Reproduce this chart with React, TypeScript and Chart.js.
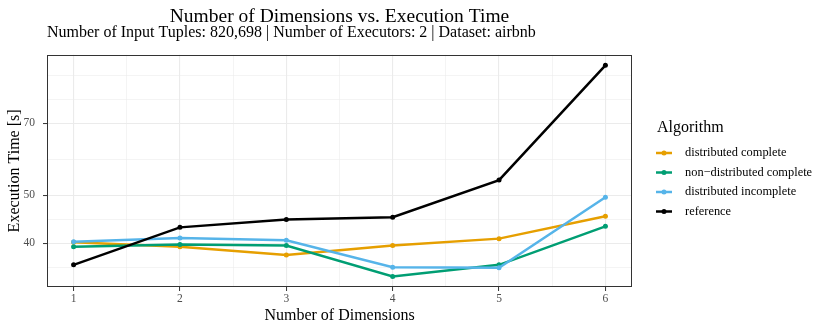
import React, { useEffect, useRef } from "react";
import { Chart, registerables } from "chart.js";

Chart.register(...registerables);

const dims = [1, 2, 3, 4, 5, 6];
const distributedComplete = [40.2, 39.4, 37.9, 39.6, 40.9, 45.4];
const nonDistributedComplete = [39.4, 39.8, 39.6, 34.3, 36.2, 43.3];
const distributedIncomplete = [40.3, 41.0, 40.6, 35.8, 35.7, 49.6];
const reference = [36.2, 43.1, 44.7, 45.2, 53.7, 91.6];

const seriesLabels = [
  "distributed complete",
  "non\u2212distributed complete",
  "distributed incomplete",
  "reference",
];
const seriesColors = ["#E69F00", "#009E73", "#56B4E9", "#000000"];
const seriesValues = [distributedComplete, nonDistributedComplete, distributedIncomplete, reference];

const xTicks = [1, 2, 3, 4, 5, 6];
const yTicks = [40, 50, 70];

const TITLE = "Number of Dimensions vs. Execution Time";
const SUBTITLE = "Number of Input Tuples: 820,698 | Number of Executors: 2 | Dataset: airbnb";
const X_TITLE = "Number of Dimensions";
const Y_TITLE = "Execution Time [s]";
const LEGEND_TITLE = "Algorithm";

const FONT = '"Liberation Serif", "Times New Roman", serif';

// ggplot-like expansions
const xMin = Math.min(...dims) - 0.05 * (Math.max(...dims) - Math.min(...dims));
const xMax = Math.max(...dims) + 0.05 * (Math.max(...dims) - Math.min(...dims));
const allY = seriesValues.flat();
const lLo = Math.log10(Math.min(...allY));
const lHi = Math.log10(Math.max(...allY));
const yMin = Math.pow(10, lLo - 0.05 * (lHi - lLo));
const yMax = Math.pow(10, lHi + 0.05 * (lHi - lLo));

// minor breaks (midpoints, in transformed space)
function minorX(): number[] {
  const out: number[] = [];
  for (let i = 0; i < xTicks.length - 1; i++) out.push((xTicks[i] + xTicks[i + 1]) / 2);
  return out;
}
function minorY(): number[] {
  const l = yTicks.map((v) => Math.log10(v));
  const bd = l[1] - l[0];
  const b = [...l];
  if (Math.log10(yMin) < b[0]) b.unshift(b[0] - bd);
  if (Math.log10(yMax) > b[b.length - 1]) b.push(b[b.length - 1] + bd);
  const out: number[] = [];
  for (let i = 0; i < b.length - 1; i++) {
    out.push(b[i], (b[i] + b[i + 1]) / 2);
  }
  out.push(b[b.length - 1]);
  return out
    .map((v) => Math.pow(10, v))
    .filter((v) => v > yMin && v < yMax && !yTicks.some((t) => Math.abs(t - v) < 1e-6));
}

const borderPlugin = {
  id: "panelBorder",
  afterDatasetsDraw(chart: any) {
    const { ctx, chartArea } = chart;
    ctx.save();
    ctx.strokeStyle = "#333333";
    ctx.lineWidth = 1;
    ctx.strokeRect(
      Math.round(chartArea.left) + 0.5,
      Math.round(chartArea.top) + 0.5,
      Math.round(chartArea.right - chartArea.left) - 1,
      Math.round(chartArea.bottom - chartArea.top) - 1
    );
    ctx.restore();
  },
};

const legendPlugin = {
  id: "ggLegend",
  afterDraw(chart: any) {
    const { ctx } = chart;
    const x0 = 657;
    ctx.save();
    ctx.fillStyle = "#000";
    ctx.textBaseline = "middle";
    ctx.textAlign = "left";
    ctx.font = `16px ${FONT}`;
    ctx.fillText(LEGEND_TITLE, x0, 128);
    chart.data.datasets.forEach((ds: any, i: number) => {
      const y = 153 + i * 19.5;
      ctx.strokeStyle = ds.borderColor;
      ctx.lineWidth = 2.5;
      ctx.beginPath();
      ctx.moveTo(x0 - 1, y);
      ctx.lineTo(x0 + 15, y);
      ctx.stroke();
      ctx.fillStyle = ds.borderColor;
      ctx.beginPath();
      ctx.arc(x0 + 7, y, 2.5, 0, Math.PI * 2);
      ctx.fill();
      ctx.fillStyle = "#000";
      ctx.font = `12.4px ${FONT}`;
      ctx.fillText(ds.label, 685, y);
    });
    ctx.restore();
  },
};

export default function App() {
  const ref = useRef<HTMLCanvasElement | null>(null);
  useEffect(() => {
    if (!ref.current) return;
    const xMinor = minorX();
    const yMinor = minorY();
    const datasets = seriesLabels.map((label, i) => ({
      label,
      data: dims.map((d, j) => ({ x: d, y: seriesValues[i][j] })),
      borderColor: seriesColors[i],
      backgroundColor: seriesColors[i],
      borderWidth: 2.5,
      pointRadius: 2.5,
      pointBorderWidth: 0,
      pointHoverRadius: 2.5,
      tension: 0,
      order: seriesLabels.length - 1 - i,
    }));
    const chart = new Chart(ref.current, {
      type: "line",
      data: { datasets },
      options: {
        animation: false,
        responsive: false,
        devicePixelRatio: 1,
        layout: { padding: { left: 0, right: 198, top: 0, bottom: 0 } },
        plugins: {
          legend: { display: false },
          tooltip: { enabled: false },
          title: {
            display: true,
            text: TITLE,
            color: "#000",
            fullSize: false,
            align: "center",
            font: { family: FONT, size: 19.5, weight: "normal", lineHeight: 1 },
            padding: { top: 7, bottom: 0 },
          },
          subtitle: {
            display: true,
            text: SUBTITLE,
            color: "#000",
            fullSize: false,
            align: "start",
            font: { family: FONT, size: 16, weight: "normal", lineHeight: 0.8 },
            padding: { top: 0, bottom: 15.5 },
          },
        },
        scales: {
          x: {
            type: "linear",
            min: xMin,
            max: xMax,
            afterBuildTicks: (scale: any) => {
              scale.ticks = [...xTicks, ...xMinor].sort((a, b) => a - b).map((v) => ({ value: v }));
            },
            afterFit: (scale: any) => {
              scale.height = 45;
            },
            ticks: {
              autoSkip: false,
              maxRotation: 0,
              padding: 1.5,
              color: "#4D4D4D",
              font: { family: FONT, size: 11.5 },
              callback: (v: any) => (xTicks.includes(Number(v)) ? String(v) : ""),
            },
            grid: {
              color: "#EBEBEB",
              lineWidth: (c: any) => (c.tick && xTicks.includes(c.tick.value) ? 1.1 : 0.55),
              tickLength: 4,
              tickWidth: 1,
              tickColor: (c: any) => (c.tick && xTicks.includes(c.tick.value) ? "#333333" : "rgba(0,0,0,0)"),
            },
            border: { display: false },
            title: {
              display: true,
              text: X_TITLE,
              color: "#000",
              font: { family: FONT, size: 16, lineHeight: 1.2 },
              padding: { top: 0, bottom: 6.7 },
            },
          },
          y: {
            type: "logarithmic",
            min: yMin,
            max: yMax,
            afterBuildTicks: (scale: any) => {
              scale.ticks = [...yTicks, ...yMinor].sort((a, b) => a - b).map((v) => ({ value: v }));
            },
            afterFit: (scale: any) => {
              scale.width = 47;
            },
            ticks: {
              autoSkip: false,
              padding: 8,
              color: "#4D4D4D",
              font: { family: FONT, size: 11.5 },
              callback: (v: any) => {
                const n = Number(v);
                return yTicks.some((t) => Math.abs(t - n) < 1e-6) ? String(n) : "";
              },
            },
            grid: {
              color: "#EBEBEB",
              lineWidth: (c: any) => (c.tick && yTicks.some((t) => Math.abs(t - c.tick.value) < 1e-6) ? 1.1 : 0.55),
              tickLength: 4,
              tickWidth: 1,
              tickColor: (c: any) =>
                c.tick && yTicks.some((t) => Math.abs(t - c.tick.value) < 1e-6) ? "#333333" : "rgba(0,0,0,0)",
            },
            border: { display: false },
            title: {
              display: true,
              text: Y_TITLE,
              color: "#000",
              font: { family: FONT, size: 16, lineHeight: 1.2 },
              padding: { top: 5, bottom: 0 },
            },
          },
        },
      },
      plugins: [borderPlugin, legendPlugin],
    } as any);
    return () => chart.destroy();
  }, []);
  return (
    <div style={{ position: "fixed", left: 0, top: 0, width: 830, height: 332, background: "#fff" }}>
      <canvas ref={ref} width={830} height={332} style={{ display: "block", width: 830, height: 332 }} />
    </div>
  );
}
